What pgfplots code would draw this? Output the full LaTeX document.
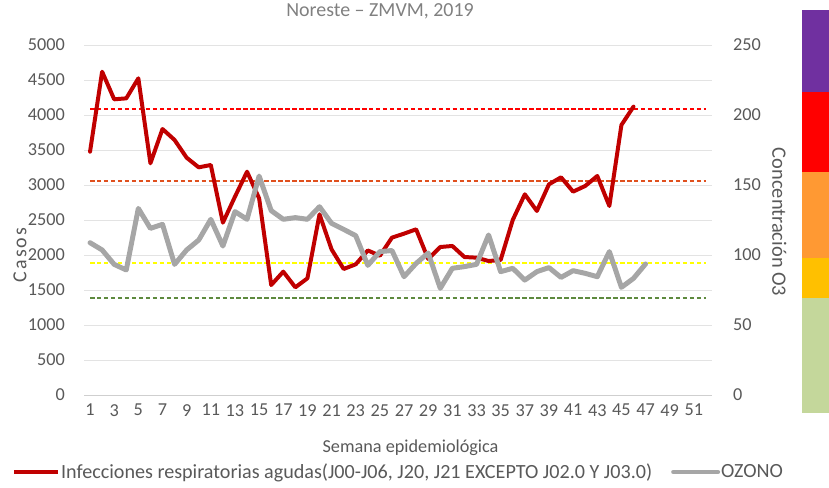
\documentclass[border=0pt]{standalone}
\usepackage{fontspec}
\setmainfont{Carlito}
\usepackage{pgfplots}
\pgfplotsset{compat=1.18}
\usepackage{pgfplotstable}

\definecolor{txt}{HTML}{595959}
\definecolor{gridc}{HTML}{E3E3E3}
\definecolor{ira}{HTML}{C00000}
\definecolor{ozono}{HTML}{A6A6A6}
\definecolor{umbralmuymalo}{RGB}{255,0,0}
\definecolor{umbralmalo}{RGB}{224,80,30}
\definecolor{umbralregular}{RGB}{255,255,0}
\definecolor{umbralbueno}{RGB}{94,138,62}

% casos semanales de IRA
\pgfplotstableread{
sem casos
1 3476
2 4619
3 4224
4 4238
5 4524
6 3310
7 3800
8 3643
9 3390
10 3252
11 3286
12 2462
13 2833
14 3190
15 2810
16 1571
17 1762
18 1538
19 1667
20 2581
21 2080
22 1800
23 1867
24 2065
25 1990
26 2248
27 2305
28 2367
29 1943
30 2114
31 2129
32 1971
33 1962
34 1914
35 1929
36 2500
37 2867
38 2629
39 3010
40 3110
41 2905
42 2986
43 3129
44 2700
45 3857
46 4119
}\ira

% concentracion semanal de ozono
\pgfplotstableread{
sem o3
1 108.8
2 103.6
3 93.3
4 89.3
5 133.3
6 119.0
7 121.9
8 93.3
9 103.6
10 110.7
11 125.5
12 106.4
13 131.0
14 125.5
15 156.4
16 131.7
17 125.5
18 126.7
19 125.5
20 134.5
21 122.6
22 118.3
23 113.8
24 92.6
25 102.4
26 103.2
27 84.5
28 94.0
29 101.4
30 76.2
31 90.5
32 91.7
33 93.3
34 114.3
35 88.1
36 90.5
37 82.1
38 88.1
39 91.0
40 84.0
41 88.8
42 86.9
43 84.5
44 102.4
45 76.9
46 83.3
47 93.6
}\ozono

\pgfplotsset{
  base/.style={
    scale only axis, width=628bp, height=350bp,
    at={(84bp,93bp)}, anchor=south west,
    xmin=0.5, xmax=52.5,
    font=\fontsize{18.3}{21}\selectfont,
    tick label style={text=txt, inner sep=0pt},
    major tick length=0pt,
    /pgf/number format/assume math mode=true,
    /pgf/number format/1000 sep={},
  },
  limite/.style={draw=#1, line width=2pt, dash pattern=on 4.5pt off 2.5pt},
}

\begin{document}
\begin{tikzpicture}
\begin{axis}[base,
  ymin=0, ymax=5000, ytick={0,500,...,5000},
  xtick={1,3,...,51},
  axis x line*=bottom, axis y line*=left,
  x axis line style={draw=gridc!80!gray, line width=1pt, -},
  y axis line style={draw=none},
  ymajorgrids, grid style={draw=gridc, line width=0.8pt},
  yticklabel shift=19bp, xticklabel shift=9bp,
  xlabel={Semana epidemiológica},
  xlabel style={text=txt, at={(axis description cs:0.52,-0.15)}, anchor=center},
  ylabel={\addfontfeature{LetterSpace=10}Casos},
  ylabel style={text=txt, font=\fontsize{20}{22}\selectfont, at={(axis description cs:-0.102,0.40)}, anchor=center, rotate=0},
]
\addplot[limite=umbralmuymalo] coordinates {(1,4080)(52,4080)};
\addplot[limite=umbralmalo] coordinates {(1,3060)(52,3060)};
\addplot[limite=umbralregular] coordinates {(1,1880)(52,1880)};
\addplot[limite=umbralbueno] coordinates {(1,1385)(52,1385)};
\addplot[ira, line width=4pt, line join=round, line cap=round] table[x=sem, y=casos] {\ira};
\end{axis}

\begin{axis}[base,
  ymin=0, ymax=250, ytick={0,50,...,250},
  axis x line=none, axis y line*=right,
  y axis line style={draw=none},
  yticklabel shift=21bp,
  yticklabel style={anchor=west},
  ylabel={Concentración O3},
  ylabel style={text=txt, font=\fontsize{20.5}{22}\selectfont, at={(axis description cs:1.107,0.494)}, anchor=center, rotate=180},
  legend style={at={(axis description cs:0.5,-0.22)}, anchor=center, draw=none, fill=none,
    legend columns=2, text=txt, inner sep=0pt, font=\fontsize{20.2}{22}\selectfont,
    /tikz/every even column/.append style={column sep=18bp},
    nodes={inner sep=1pt}},
  legend image code/.code={\draw[#1] (0bp,0bp) -- (44bp,0bp);},
]
\addlegendimage{ira, line width=4pt}
\addlegendentry{Infecciones respiratorias agudas(J00-J06, J20, J21 EXCEPTO J02.0 Y J03.0)}
\addplot[ozono, line width=5pt, line join=round, line cap=round] table[x=sem, y=o3] {\ozono};
\addlegendentry{OZONO}
\end{axis}

% bandas de calidad del aire
\fill[fill={rgb,255:red,112;green,48;blue,160}] (802bp,396bp) rectangle (829bp,478bp);
\fill[fill={rgb,255:red,255;green,0;blue,0}] (802bp,316bp) rectangle (829bp,396bp);
\fill[fill={rgb,255:red,255;green,153;blue,51}] (802bp,230bp) rectangle (829bp,316bp);
\fill[fill={rgb,255:red,255;green,192;blue,0}] (802bp,190bp) rectangle (829bp,230bp);
\fill[fill={rgb,255:red,196;green,215;blue,155}] (802bp,75bp) rectangle (829bp,190bp);

\node[anchor=base, text=gray, font=\fontsize{20}{22}\selectfont] at (380bp,471bp) {Noreste – ZMVM, 2019};

\pgfresetboundingbox
\path[use as bounding box] (0,0) rectangle (829bp,488bp);
\end{tikzpicture}
\end{document}
